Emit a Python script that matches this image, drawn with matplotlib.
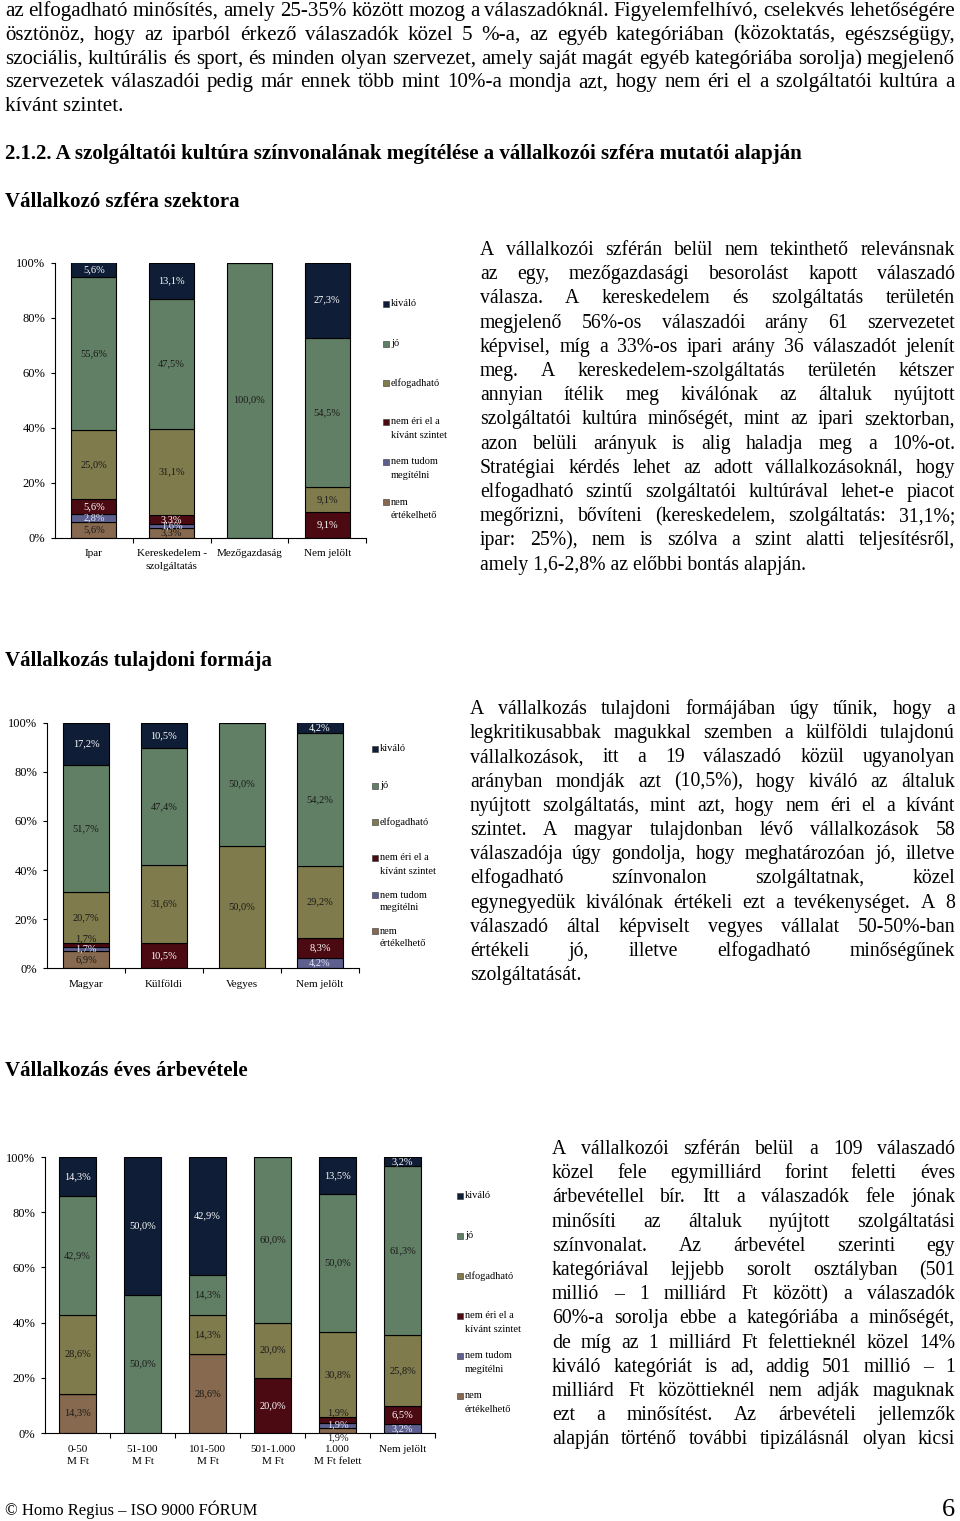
import numpy as np
import matplotlib
matplotlib.use('Agg')
import matplotlib.pyplot as plt
from matplotlib.patches import Rectangle

# --- data -------------------------------------------------------------
ratings = ['kiváló', 'jó', 'elfogadható', 'nem éri el a\nkívánt szintet',
           'nem tudom\nmegítélni', 'nem\nértékelhető']
rating_colors = ['#0f1e36', '#617f65', '#807b4c', '#4b0a12', '#5d5f8f', '#86694e']
label_colors = ['white', '#1a1a1a', '#1a1a1a', 'white', '#e6e6f5', '#1a1a1a']

sector_cats = ['Ipar', 'Kereskedelem -\nszolgáltatás', 'Mezőgazdaság', 'Nem jelölt']
sector_kivalo = [5.6, 13.1, 0, 27.3]
sector_jo = [55.6, 47.5, 100.0, 54.5]
sector_elfogadhato = [25.0, 31.1, 0, 9.1]
sector_nem_eri_el = [5.6, 3.3, 0, 9.1]
sector_nem_tudom = [2.8, 1.6, 0, 0]
sector_nem_ertekelheto = [5.6, 3.3, 0, 0]

owner_cats = ['Magyar', 'Külföldi', 'Vegyes', 'Nem jelölt']
owner_kivalo = [17.2, 10.5, 0, 4.2]
owner_jo = [51.7, 47.4, 50.0, 54.2]
owner_elfogadhato = [20.7, 31.6, 50.0, 29.2]
owner_nem_eri_el = [1.7, 10.5, 0, 8.3]
owner_nem_tudom = [1.7, 0, 0, 4.2]
owner_nem_ertekelheto = [6.9, 0, 0, 0]

revenue_cats = ['0-50\nM Ft', '51-100\nM Ft', '101-500\nM Ft', '501-1.000\nM Ft',
                '1.000\nM Ft felett', 'Nem jelölt']
revenue_kivalo = [14.3, 50.0, 42.9, 0, 13.5, 3.2]
revenue_jo = [42.9, 50.0, 14.3, 60.0, 50.0, 61.3]
revenue_elfogadhato = [28.6, 0, 14.3, 20.0, 30.8, 25.8]
revenue_nem_eri_el = [0, 0, 0, 20.0, 1.9, 6.5]
revenue_nem_tudom = [0, 0, 0, 0, 1.9, 3.2]
revenue_nem_ertekelheto = [14.3, 0, 28.6, 0, 1.9, 0]

# --- page text ----------------------------------------------------------
top_lines = [
    'az elfogadható minősítés, amely 25-35% között mozog a válaszadóknál. Figyelemfelhívó, cselekvés lehetőségére',
    'ösztönöz, hogy az iparból érkező válaszadók közel 5 %-a, az egyéb kategóriában (közoktatás, egészségügy,',
    'szociális, kultúrális és sport, és minden olyan szervezet, amely saját magát egyéb kategóriába sorolja) megjelenő',
    'szervezetek válaszadói pedig már ennek több mint 10%-a mondja azt, hogy nem éri el a szolgáltatói kultúra a',
    'kívánt szintet.',
]
para1 = [
    'A vállalkozói szférán belül nem tekinthető relevánsnak',
    'az egy, mezőgazdasági besorolást kapott válaszadó',
    'válasza. A kereskedelem és szolgáltatás területén',
    'megjelenő 56%-os válaszadói arány 61 szervezetet',
    'képvisel, míg a 33%-os ipari arány 36 válaszadót jelenít',
    'meg. A kereskedelem-szolgáltatás területén kétszer',
    'annyian ítélik meg kiválónak az általuk nyújtott',
    'szolgáltatói kultúra minőségét, mint az ipari szektorban,',
    'azon belüli arányuk is alig haladja meg a 10%-ot.',
    'Stratégiai kérdés lehet az adott vállalkozásoknál, hogy',
    'elfogadható szintű szolgáltatói kultúrával lehet-e piacot',
    'megőrizni, bővíteni (kereskedelem, szolgáltatás: 31,1%;',
    'ipar: 25%), nem is szólva a szint alatti teljesítésről,',
    'amely 1,6-2,8% az előbbi bontás alapján.',
]
para2 = [
    'A vállalkozás tulajdoni formájában úgy tűnik, hogy a',
    'legkritikusabbak magukkal szemben a külföldi tulajdonú',
    'vállalkozások, itt a 19 válaszadó közül ugyanolyan',
    'arányban mondják azt (10,5%), hogy kiváló az általuk',
    'nyújtott szolgáltatás, mint azt, hogy nem éri el a kívánt',
    'szintet. A magyar tulajdonban lévő vállalkozások 58',
    'válaszadója úgy gondolja, hogy meghatározóan jó, illetve',
    'elfogadható színvonalon szolgáltatnak, közel',
    'egynegyedük kiválónak értékeli ezt a tevékenységet. A 8',
    'válaszadó által képviselt vegyes vállalat 50-50%-ban',
    'értékeli jó, illetve elfogadható minőségűnek',
    'szolgáltatását.',
]
para3 = [
    'A vállalkozói szférán belül a 109 válaszadó',
    'közel fele egymilliárd forint feletti éves',
    'árbevétellel bír. Itt a válaszadók fele jónak',
    'minősíti az általuk nyújtott szolgáltatási',
    'színvonalat. Az árbevétel szerinti egy',
    'kategóriával lejjebb sorolt osztályban (501',
    'millió – 1 milliárd Ft között) a válaszadók',
    '60%-a sorolja ebbe a kategóriába a minőségét,',
    'de míg az 1 milliárd Ft felettieknél közel 14%',
    'kiváló kategóriát is ad, addig 501 millió – 1',
    'milliárd Ft közöttieknél nem adják maguknak',
    'ezt a minősítést. Az árbevételi jellemzők',
    'alapján történő további tipizálásnál olyan kicsi',
]

W, H = 960, 1521
plt.rcParams['font.family'] = ['Liberation Serif', 'DejaVu Serif']
fig = plt.figure(figsize=(W / 100, H / 100), dpi=100)
fig.patch.set_facecolor('white')
renderer = fig.canvas.get_renderer()


def fx(x):
    return x / W


def fy(y):
    return 1 - y / H


def text_width(s, size, weight='normal'):
    t = fig.text(0, 0, s, fontsize=size, weight=weight)
    w = t.get_window_extent(renderer).width
    t.remove()
    return w


def fit_size(lines, width, cap, weight='normal'):
    s = cap
    for ln in lines:
        s = min(s, width / (text_width(ln, 10, weight) / 10))
    return s


def justify(lines, x0, x1, y0, step, size, last_left=True, weight='normal'):
    for i, ln in enumerate(lines):
        y = fy(y0 + i * step)
        words = ln.split(' ')
        if (i == len(lines) - 1 and last_left) or len(words) == 1:
            fig.text(fx(x0), y, ln, fontsize=size, weight=weight, va='baseline')
            continue
        ws = [text_width(w, size, weight) for w in words]
        gap = (x1 - x0 - sum(ws)) / (len(words) - 1)
        x = x0
        for w, wd in zip(words, ws):
            fig.text(fx(x), y, w, fontsize=size, weight=weight, va='baseline')
            x += wd + gap


# body text
s_top = fit_size(top_lines[:4], 950, 16)
justify(top_lines, 5, 955, 16, 23.8, s_top)

s1 = fit_size(para1, 475, 14.2)
justify(para1, 480, 955, 255, 24.2, s1)
s2 = fit_size(para2, 485, 14.2)
justify(para2, 470, 955, 714, 24.2, s2)
s3 = fit_size(para3, 403, 14.2)
justify(para3, 552, 955, 1154, 24.2, s3, last_left=False)

# headings
heading = '2.1.2. A szolgáltatói kultúra színvonalának megítélése a vállalkozói szféra mutatói alapján'
s_head = fit_size([heading], 800, 15.5, 'bold')
fig.text(fx(5), fy(159), heading, fontsize=s_head, weight='bold', va='baseline')
for txt, yb in [('Vállalkozó szféra szektora', 207), ('Vállalkozás tulajdoni formája', 666),
                ('Vállalkozás éves árbevétele', 1076)]:
    fig.text(fx(5), fy(yb), txt, fontsize=s_head, weight='bold', va='baseline')

# footer
s_foot = fit_size(['© Homo Regius – ISO 9000 FÓRUM'], 253, 13)
fig.text(fx(5), fy(1515), '© Homo Regius – ISO 9000 FÓRUM', fontsize=s_foot, va='baseline')
fig.text(fx(955), fy(1516), '6', fontsize=19, va='baseline', ha='right')


# --- charts -------------------------------------------------------------
def stacked(box, cats, series, bar_w, leg_x, leg_ys, leg_step):
    left, top, right, bottom = box
    ax = fig.add_axes([fx(left), fy(bottom), fx(right) - fx(left), fy(top) - fy(bottom)])
    x = np.arange(len(cats))
    base = np.zeros(len(cats))
    # bottom-up stacking: reversed rating order
    for k in range(len(series) - 1, -1, -1):
        vals = np.array(series[k], dtype=float)
        ax.bar(x, vals, bar_w, bottom=base, color=rating_colors[k],
               edgecolor='black', linewidth=0.8)
        for xi, v, b in zip(x, vals, base):
            if v <= 0:
                continue
            lab = f'{v:.1f}%'.replace('.', ',')
            if v < 2.5 and k == 3:
                # thin "nem éri el" slice: label sits just above it
                ax.text(xi, b + v, lab, ha='center', va='bottom',
                        fontsize=7.5, color='#1a1a1a')
            elif v < 2.5 and k == 5:
                # thin bottom slice: label hangs just under the axis line
                ax.text(xi, b, lab, ha='center', va='top',
                        fontsize=7.5, color='#1a1a1a', clip_on=False)
            else:
                ax.text(xi, b + v / 2, lab, ha='center', va='center',
                        fontsize=7.5, color=label_colors[k])
        base += vals
    ax.set_xlim(-0.5, len(cats) - 0.5)
    ax.set_ylim(0, 100)
    ax.set_yticks(range(0, 101, 20))
    ax.set_yticklabels([f'{v}%' for v in range(0, 101, 20)], fontsize=9)
    ax.tick_params(axis='y', direction='out', length=3, width=0.8, pad=4)
    ax.set_xticks(x)
    ax.set_xticklabels(cats, fontsize=8, linespacing=1.5, va='top')
    ax.set_xticks(np.arange(0.5, len(cats), 1), minor=True)
    ax.tick_params(axis='x', which='major', length=0, pad=8.5)
    ax.tick_params(axis='x', which='minor', direction='out', length=3.6, width=0.8)
    for sp in ['top', 'right']:
        ax.spines[sp].set_visible(False)
    for sp in ['left', 'bottom']:
        ax.spines[sp].set_linewidth(0.8)
        ax.spines[sp].set_color('black')
    ax.set_facecolor('white')

    # legend
    for k, (lab, yc) in enumerate(zip(ratings, leg_ys)):
        fig.patches.append(Rectangle((fx(leg_x - 8), fy(yc + 3)), 6 / W, 6 / H,
                                     transform=fig.transFigure, facecolor=rating_colors[k],
                                     edgecolor='#333333', linewidth=0.4))
        for j, part in enumerate(lab.split('\n')):
            fig.text(fx(leg_x), fy(yc + j * leg_step), part, fontsize=7.5, va='center')
    return ax


stacked((55, 262.5, 366, 537.5), sector_cats,
        [sector_kivalo, sector_jo, sector_elfogadhato, sector_nem_eri_el,
         sector_nem_tudom, sector_nem_ertekelheto],
        0.58, 391, [304, 344, 383, 422, 462, 502], 14)

stacked((47, 722.7, 359, 968.3), owner_cats,
        [owner_kivalo, owner_jo, owner_elfogadhato, owner_nem_eri_el,
         owner_nem_tudom, owner_nem_ertekelheto],
        0.6, 380, [749, 786, 822, 858, 895, 931], 13)

stacked((45, 1157, 435, 1433), revenue_cats,
        [revenue_kivalo, revenue_jo, revenue_elfogadhato, revenue_nem_eri_el,
         revenue_nem_tudom, revenue_nem_ertekelheto],
        0.58, 465, [1196, 1236, 1276, 1316, 1356, 1396], 14)

fig.savefig('out.png', dpi=100, facecolor='white')
